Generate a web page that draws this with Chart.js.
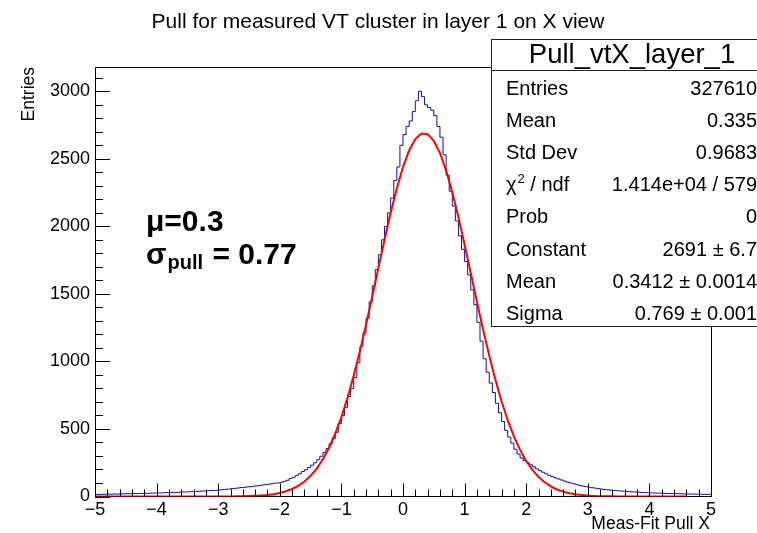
<!DOCTYPE html>
<html>
<head>
<meta charset="utf-8">
<script src="https://cdn.jsdelivr.net/npm/chart.js@4/dist/chart.umd.min.js"></script>
<style>
    body { margin: 0; background: #fff; }
    canvas { display: block; }
</style>
</head>
<body>
<canvas id="chart-pull" width="757" height="533"></canvas>
<script>
// histogram: 200 bins of 0.05 from -5 to 5, counts
const binLow = -5;
const binWidth = 0.05;
const pullCounts = [
    14, 16, 15, 17, 16, 18, 17, 19, 18, 20,
    19, 21, 20, 22, 21, 23, 22, 24, 23, 25,
    25, 26, 27, 27, 29, 28, 31, 30, 32, 33,
    34, 35, 36, 37, 38, 40, 41, 42, 44, 45,
    46, 49, 51, 53, 55, 58, 60, 63, 66, 68,
    71, 73, 76, 79, 82, 85, 88, 91, 95, 99,
    100, 105, 112, 120, 133, 142, 155, 168, 185, 198,
    214, 232, 250, 272, 298, 325, 355, 390, 430, 475,
    540, 600, 660, 740, 800, 880, 990, 1110, 1210, 1320,
    1440, 1560, 1680, 1790, 1900, 2000, 2100, 2210, 2340, 2440,
    2600, 2680, 2740, 2780, 2850, 2930, 3000, 2960, 2900, 2880,
    2860, 2820, 2740, 2660, 2530, 2380, 2260, 2150, 2040, 1930,
    1830, 1740, 1640, 1530, 1420, 1290, 1150, 1020, 920, 840,
    770, 690, 620, 555, 490, 440, 395, 350, 315, 285,
    265, 250, 235, 220, 205, 192, 180, 168, 157, 147,
    138, 130, 122, 114, 107, 100, 94, 88, 82, 77,
    73, 69, 65, 62, 58, 55, 52, 50, 47, 45,
    43, 41, 39, 38, 36, 34, 33, 31, 30, 29,
    28, 27, 26, 25, 25, 24, 23, 22, 22, 21,
    21, 20, 19, 19, 18, 18, 17, 17, 16, 16
];

// gaussian fit curve, sampled every 0.1 from -5 to 4.6
const fitStart = -5;
const fitStep = 0.1;
const fitValues = [
    0, 0, 0, 0, 0, 0, 0, 0, 0, 0,
    0, 0, 0, 0, 0, 0, 0, 0, 0, 0,
    0.2, 0.4, 0.6, 1.1, 1.8, 2.9, 4.7, 7.4, 11, 17,
    26, 39, 56, 79, 111, 153, 207, 276, 361, 465,
    588, 732, 895, 1076, 1272, 1479, 1691, 1901, 2101, 2283,
    2439, 2562, 2646, 2687, 2683, 2634, 2543, 2413, 2252, 2067,
    1864, 1654, 1442, 1237, 1043, 865, 705, 565, 445, 345,
    263, 197, 145, 105, 75, 52, 36, 24, 16, 11,
    6.8, 4.3, 2.7, 1.6, 1.0, 0.6, 0, 0, 0, 0,
    0, 0, 0, 0, 0, 0, 0
];

const xTicks = [-5, -4, -3, -2, -1, 0, 1, 2, 3, 4, 5];
const yTicks = [0, 500, 1000, 1500, 2000, 2500, 3000];

const chartTitle = 'Pull for measured VT cluster in layer 1 on X view';
const xTitle = 'Meas-Fit Pull X';
const yTitle = 'Entries';
const statsName = 'Pull_vtX_layer_1';
const statsLabels = ['Entries', 'Mean', 'Std Dev', 'chi2', 'Prob', 'Constant', 'Mean', 'Sigma'];
const statsValues = ['327610', '0.335', '0.9683', '1.414e+04 / 579', '0', '2691 \u00b1 6.7', '0.3412 \u00b1 0.0014', '0.769 \u00b1 0.001'];

const FONT = '"Liberation Sans", Arial, Helvetica, sans-serif';

function histPoints() {
    const pts = pullCounts.map((c, i) => ({ x: binLow + i * binWidth, y: c }));
    pts.push({ x: binLow + pullCounts.length * binWidth, y: pullCounts[pullCounts.length - 1] });
    return pts;
}

function fitPoints() {
    return fitValues.map((v, i) => ({ x: fitStart + i * fitStep, y: v }));
}

const rootDecor = {
    id: 'rootDecor',
    afterDraw(chart) {
        const ctx = chart.ctx;
        const area = chart.chartArea;
        const xs = chart.scales.x;
        const ys = chart.scales.y;
        ctx.save();

        // inside ticks
        ctx.strokeStyle = '#000';
        ctx.lineWidth = 1;
        ctx.beginPath();
        for (let i = 0; i <= 50; i++) {
            const v = -5 + i * 0.2;
            const px = Math.round(xs.getPixelForValue(v)) + 0.5;
            const len = (i % 5 === 0) ? 13 : 7;
            ctx.moveTo(px, area.bottom);
            ctx.lineTo(px, area.bottom - len);
        }
        for (let v = 0; v <= 3100; v += 100) {
            const py = Math.round(ys.getPixelForValue(v)) + 0.5;
            const len = (v % 500 === 0) ? 15 : 8;
            ctx.moveTo(area.left, py);
            ctx.lineTo(area.left + len, py);
        }
        // frame top & right
        ctx.moveTo(area.left, Math.round(area.top) + 0.5);
        ctx.lineTo(area.right, Math.round(area.top) + 0.5);
        ctx.moveTo(Math.round(area.right) + 0.5, area.top);
        ctx.lineTo(Math.round(area.right) + 0.5, area.bottom);
        ctx.stroke();

        // titles
        ctx.fillStyle = '#000';
        ctx.font = '21px ' + FONT;
        ctx.textAlign = 'center';
        ctx.textBaseline = 'alphabetic';
        ctx.fillText(chartTitle, 378, 28);

        ctx.font = '17.5px ' + FONT;
        ctx.textAlign = 'right';
        ctx.fillText(xTitle, 710, 529);

        ctx.save();
        ctx.translate(34, 67);
        ctx.rotate(-Math.PI / 2);
        ctx.textAlign = 'right';
        ctx.fillText(yTitle, 0, 0);
        ctx.restore();

        // annotation
        ctx.textAlign = 'left';
        ctx.font = 'bold 30px ' + FONT;
        ctx.fillText('\u03bc=0.3', 146, 231);
        ctx.fillText('\u03c3', 146, 264);
        const w = ctx.measureText('\u03c3').width;
        ctx.font = 'bold 20px ' + FONT;
        ctx.fillText('pull', 146 + w + 1, 269);
        const w2 = ctx.measureText('pull').width;
        ctx.font = 'bold 30px ' + FONT;
        ctx.fillText(' = 0.77', 146 + w + 1 + w2 + 1, 264);

        // stats box
        const bx = 491.5, by = 39.5, bw = 280, bh = 287;
        ctx.fillStyle = '#fff';
        ctx.fillRect(bx, by, bw, bh);
        ctx.strokeStyle = '#222';
        ctx.strokeRect(bx, by, bw, bh);
        ctx.beginPath();
        ctx.moveTo(bx, 70.5);
        ctx.lineTo(bx + bw, 70.5);
        ctx.stroke();

        ctx.fillStyle = '#000';
        ctx.font = '27.5px ' + FONT;
        ctx.textAlign = 'center';
        ctx.fillText(statsName, 632, 63);

        ctx.font = '20px ' + FONT;
        for (let i = 0; i < statsLabels.length; i++) {
            const base = 95 + i * 32.1;
            ctx.textAlign = 'left';
            if (statsLabels[i] === 'chi2') {
                ctx.fillText('\u03c7', 506, base);
                const cw = ctx.measureText('\u03c7').width;
                ctx.font = '13px ' + FONT;
                ctx.fillText('2', 506 + cw + 1, base - 8);
                const sw = ctx.measureText('2').width;
                ctx.font = '20px ' + FONT;
                ctx.fillText(' / ndf', 506 + cw + 1 + sw, base);
            } else {
                ctx.fillText(statsLabels[i], 506, base);
            }
            ctx.textAlign = 'right';
            ctx.fillText(statsValues[i], 757, base);
        }
        ctx.restore();
    }
};

const chartPull = new Chart(document.getElementById('chart-pull'), {
    type: 'scatter',
    data: {
        datasets: [
            {
                label: 'Pull_vtX_layer_1',
                data: histPoints(),
                showLine: true,
                stepped: 'after',
                borderColor: '#10109a',
                borderWidth: 1,
                pointRadius: 0,
                order: 2
            },
            {
                label: 'gaus',
                data: fitPoints(),
                showLine: true,
                borderColor: '#ff0000',
                borderWidth: 2,
                tension: 0,
                pointRadius: 0,
                order: 1
            }
        ]
    },
    options: {
        responsive: false,
        animation: false,
        layout: { padding: { left: 0, top: 67, right: 46, bottom: 0 } },
        plugins: {
            legend: { display: false },
            tooltip: { enabled: false },
            title: { display: false }
        },
        scales: {
            x: {
                type: 'linear',
                min: -5,
                max: 5,
                afterFit(scale) { scale.height = 36.5; },
                afterBuildTicks(scale) { scale.ticks = xTicks.map(v => ({ value: v })); },
                grid: { display: false, drawTicks: false },
                border: { display: true, color: '#000', width: 1 },
                ticks: {
                    padding: 3,
                    color: '#000',
                    font: { family: FONT, size: 18 },
                    maxRotation: 0,
                    callback: v => String(v).replace('-', '\u2212')
                }
            },
            y: {
                type: 'linear',
                min: 0,
                max: 3180,
                afterFit(scale) { scale.width = 95; },
                afterBuildTicks(scale) { scale.ticks = yTicks.map(v => ({ value: v })); },
                grid: { display: false, drawTicks: false },
                border: { display: true, color: '#000', width: 1 },
                ticks: {
                    padding: 5,
                    color: '#000',
                    font: { family: FONT, size: 18 },
                    callback: v => String(v)
                }
            }
        }
    },
    plugins: [rootDecor]
});
</script>
</body>
</html>
